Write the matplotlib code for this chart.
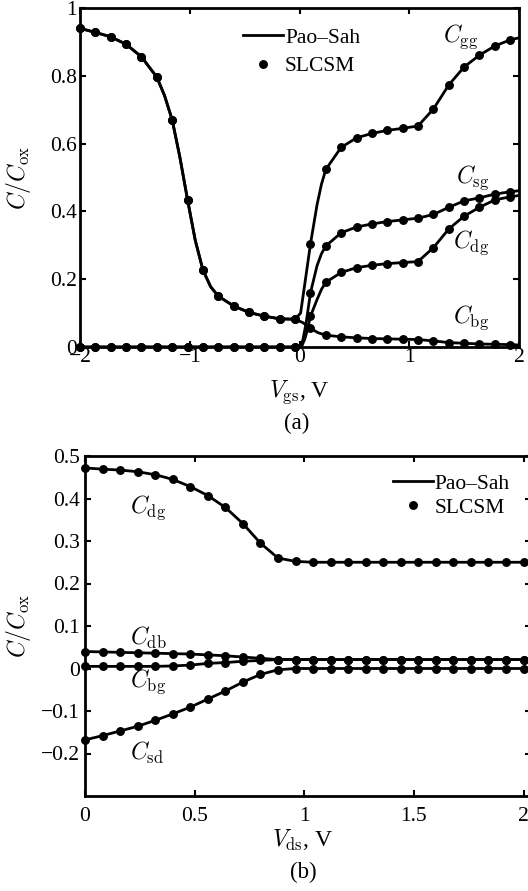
import numpy as np
import matplotlib
matplotlib.use('Agg')
import matplotlib.pyplot as plt
from matplotlib.lines import Line2D

plt.rcParams['font.family'] = 'serif'
plt.rcParams['font.serif'] = ['Liberation Serif', 'DejaVu Serif']
plt.rcParams['mathtext.fontset'] = 'cm'
plt.rcParams['font.size'] = 15.5
plt.rcParams['axes.unicode_minus'] = True

################################################################################
# data, panel (a): C/Cox vs Vgs
################################################################################

vgs = [-2.00, -1.86, -1.72, -1.58, -1.44, -1.30, -1.16, -1.02, -0.88, -0.74,
       -0.60, -0.46, -0.32, -0.18, -0.04, 0.10, 0.24, 0.38, 0.52, 0.66,
       0.80, 0.94, 1.08, 1.22, 1.36, 1.50, 1.64, 1.78, 1.92]

cgg_a = [0.940, 0.928, 0.915, 0.893, 0.856, 0.796, 0.670, 0.434, 0.227, 0.150,
         0.121, 0.102, 0.091, 0.083, 0.082, 0.304, 0.524, 0.589, 0.617, 0.630,
         0.639, 0.645, 0.652, 0.702, 0.773, 0.826, 0.861, 0.888, 0.906]
cbg_a = [0.940, 0.928, 0.915, 0.893, 0.856, 0.796, 0.670, 0.434, 0.227, 0.150,
         0.121, 0.102, 0.091, 0.083, 0.082, 0.055, 0.035, 0.030, 0.027, 0.025,
         0.024, 0.023, 0.022, 0.018, 0.013, 0.011, 0.009, 0.008, 0.007]
csg_a = [0.0, 0.0, 0.0, 0.0, 0.0, 0.0, 0.0, 0.0, 0.0, 0.0,
         0.0, 0.0, 0.0, 0.0, 0.0, 0.160, 0.298, 0.337, 0.354, 0.363,
         0.370, 0.375, 0.380, 0.391, 0.412, 0.431, 0.440, 0.451, 0.458]
cdg_a = [0.0, 0.0, 0.0, 0.0, 0.0, 0.0, 0.0, 0.0, 0.0, 0.0,
         0.0, 0.0, 0.0, 0.0, 0.0, 0.091, 0.191, 0.220, 0.234, 0.241,
         0.246, 0.249, 0.252, 0.293, 0.348, 0.386, 0.412, 0.434, 0.443]

# Pao-Sah curve: extra points (steep parts + end)
cgg_a_x_extra = [-1.23, -1.09, -0.95, -0.81, 0.01, 0.05, 0.16, 0.20, 2.00]
cgg_a_y_extra = [0.742, 0.560, 0.315, 0.178, 0.100, 0.190, 0.420, 0.480, 0.912]
cbg_a_x_extra = [-1.23, -1.09, -0.95, -0.81, 0.03, 0.17, 2.00]
cbg_a_y_extra = [0.742, 0.560, 0.315, 0.178, 0.072, 0.042, 0.006]
csg_a_x_extra = [0.00, 0.03, 0.06, 0.16, 0.20, 2.00]
csg_a_y_extra = [0.002, 0.020, 0.070, 0.240, 0.275, 0.461]
cdg_a_x_extra = [0.02, 0.05, 0.075, 0.16, 0.20, 2.00]
cdg_a_y_extra = [0.002, 0.025, 0.055, 0.140, 0.170, 0.447]

################################################################################
# data, panel (b): C/Cox vs Vds
################################################################################

vds = [0.00, 0.08, 0.16, 0.24, 0.32, 0.40, 0.48, 0.56, 0.64, 0.72,
       0.80, 0.88, 0.96, 1.04, 1.12, 1.20, 1.28, 1.36, 1.44, 1.52,
       1.60, 1.68, 1.76, 1.84, 1.92, 2.00]

cdg_b = [0.472, 0.469, 0.467, 0.463, 0.456, 0.445, 0.428, 0.407, 0.379, 0.341,
         0.295, 0.260, 0.252, 0.250, 0.250, 0.250, 0.250, 0.250, 0.250, 0.250,
         0.250, 0.250, 0.250, 0.250, 0.250, 0.250]
cdb_b = [0.040, 0.039, 0.038, 0.037, 0.036, 0.035, 0.034, 0.032, 0.030, 0.027,
         0.024, 0.021, 0.021, 0.021, 0.021, 0.021, 0.021, 0.021, 0.021, 0.021,
         0.021, 0.021, 0.021, 0.021, 0.021, 0.021]
cbg_b = [0.005, 0.005, 0.005, 0.005, 0.005, 0.006, 0.008, 0.012, 0.014, 0.017,
         0.019, 0.021, 0.021, 0.021, 0.021, 0.021, 0.021, 0.021, 0.021, 0.021,
         0.021, 0.021, 0.021, 0.021, 0.021, 0.021]
csd_b = [-0.168, -0.158, -0.147, -0.136, -0.122, -0.107, -0.091, -0.072, -0.053, -0.032,
         -0.014, -0.003, 0.0, 0.0, 0.0, 0.0, 0.0, 0.0, 0.0, 0.0,
         0.0, 0.0, 0.0, 0.0, 0.0, 0.0]

xticks_a = [-2, -1, 0, 1, 2]
yticks_a = [0, 0.2, 0.4, 0.6, 0.8, 1]
yticklabels_a = ['0', '0.2', '0.4', '0.6', '0.8', '1']
xticks_b = [0, 0.5, 1, 1.5, 2]
xticklabels_b = ['0', '0.5', '1', '1.5', '2']
yticks_b = [-0.2, -0.1, 0, 0.1, 0.2, 0.3, 0.4, 0.5]
yticklabels_b = ['\u22120.2', '\u22120.1', '0', '0.1', '0.2', '0.3', '0.4', '0.5']


def merged(x, y, xe, ye):
    # marker points + extra line points, sorted by x
    xx = np.concatenate([x, xe])
    yy = np.concatenate([y, ye])
    idx = np.argsort(xx, kind='stable')
    return xx[idx], yy[idx]


def style_axes(ax, xpad, ypad):
    for s in ax.spines.values():
        s.set_linewidth(2.0)
    ax.tick_params(direction='in', length=4, width=1.5, top=True, right=True,
                   labelsize=15.5)
    ax.tick_params(axis='x', pad=xpad)
    ax.tick_params(axis='y', pad=ypad)


LW = 2.0
MS = 5.4
FS_MATH = 17

fig = plt.figure(figsize=(5.28, 8.91), dpi=100)

## panel (a)

ax = fig.add_axes([80 / 528, 1 - 347 / 891, 439 / 528, 339 / 891])

for y, xe, ye in [(cgg_a, cgg_a_x_extra, cgg_a_y_extra),
                  (cbg_a, cbg_a_x_extra, cbg_a_y_extra),
                  (csg_a, csg_a_x_extra, csg_a_y_extra),
                  (cdg_a, cdg_a_x_extra, cdg_a_y_extra)]:
    lx, ly = merged(vgs, y, xe, ye)
    ax.plot(lx, ly, color='black', lw=LW, solid_joinstyle='round', zorder=2)
    ax.plot(vgs, y, 'o', color='black', ms=MS, zorder=3, clip_on=False)

ax.set_xlim(-2, 2)
ax.set_ylim(0, 1)
ax.set_xticks(xticks_a)
ax.set_yticks(yticks_a)
ax.set_yticklabels(yticklabels_a)
style_axes(ax, 0.5, 2.0)

ax.text(1.31, 0.915, r'$C_{\rm gg}$', fontsize=FS_MATH, va='center', ha='left')
ax.text(1.43, 0.500, r'$C_{\rm sg}$', fontsize=FS_MATH, va='center', ha='left')
ax.text(1.40, 0.307, r'$C_{\rm dg}$', fontsize=FS_MATH, va='center', ha='left')
ax.text(1.40, 0.085, r'$C_{\rm bg}$', fontsize=FS_MATH, va='center', ha='left')

ax.set_ylabel(r'$C/C_{\rm ox}$', fontsize=FS_MATH)
ax.yaxis.set_label_coords(-0.107, 0.5)
ax.set_xlabel(r'$V_{\rm gs}$, V', fontsize=FS_MATH)
ax.xaxis.set_label_coords(0.5, -0.092)
fig.text(297 / 528, 1 - 423 / 891, '(a)', fontsize=16.5, ha='center', va='center')

handles = [Line2D([], [], color='black', lw=LW),
           Line2D([], [], color='black', marker='o', ls='none', ms=MS)]
ax.legend(handles, ['Pao\u2013Sah', 'SLCSM'], loc='upper left',
          bbox_to_anchor=(0.371, 0.942), frameon=False, borderpad=0,
          borderaxespad=0, handlelength=1.86, handletextpad=0.1,
          labelspacing=0.4, fontsize=15.5)

## panel (b)

bx = fig.add_axes([85 / 528, 1 - 796 / 891, 446 / 528, 340 / 891])

for y in [cdg_b, cdb_b, cbg_b, csd_b]:
    bx.plot(vds, y, color='black', lw=LW, solid_joinstyle='round', zorder=2)
    bx.plot(vds, y, 'o', color='black', ms=MS, zorder=3, clip_on=False)

bx.set_xlim(0, 2.034)
bx.set_ylim(-0.3, 0.5)
bx.set_xticks(xticks_b)
bx.set_xticklabels(xticklabels_b)
bx.set_yticks(yticks_b)
bx.set_yticklabels(yticklabels_b)
style_axes(bx, 8.0, 3.5)

bx.text(0.205, 0.378, r'$C_{\rm dg}$', fontsize=FS_MATH, va='center', ha='left')
bx.text(0.205, 0.071, r'$C_{\rm db}$', fontsize=FS_MATH, va='center', ha='left')
bx.text(0.205, -0.032, r'$C_{\rm bg}$', fontsize=FS_MATH, va='center', ha='left')
bx.text(0.205, -0.198, r'$C_{\rm sd}$', fontsize=FS_MATH, va='center', ha='left')

bx.set_ylabel(r'$C/C_{\rm ox}$', fontsize=FS_MATH)
bx.yaxis.set_label_coords(-0.117, 0.5)
bx.set_xlabel(r'$V_{\rm ds}$, V', fontsize=FS_MATH)
bx.xaxis.set_label_coords(218 / 446, -0.094)
fig.text(303 / 528, 1 - 872 / 891, '(b)', fontsize=16.5, ha='center', va='center')

bx.legend(handles, ['Pao\u2013Sah', 'SLCSM'], loc='upper left',
          bbox_to_anchor=(0.69, 0.948), frameon=False, borderpad=0,
          borderaxespad=0, handlelength=1.86, handletextpad=0.1,
          labelspacing=0.18, fontsize=15.5)

plt.savefig('out.png', dpi=100)
plt.close()
